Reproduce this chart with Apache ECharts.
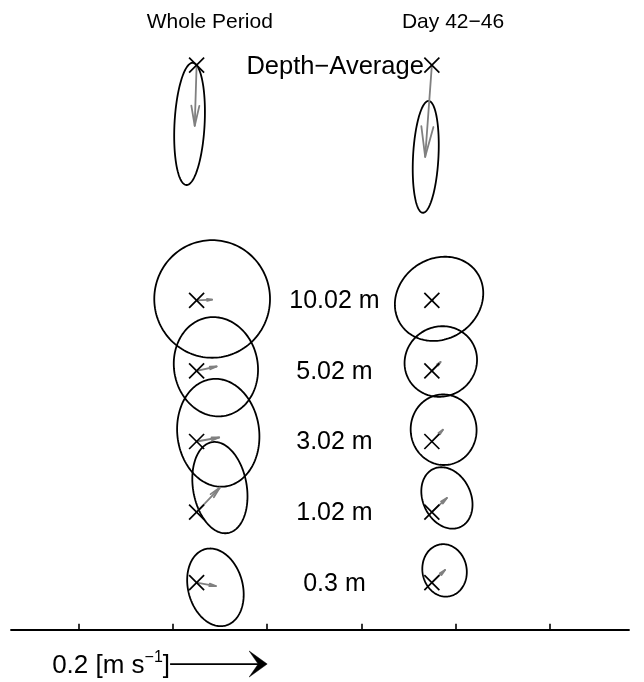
<!DOCTYPE html>
<html>
<head>
<meta charset="utf-8">
<script src="https://cdn.jsdelivr.net/npm/echarts@6/dist/echarts.min.js"></script>
<style>
  html, body { margin: 0; padding: 0; background: #fff; }
  #chart { width: 644px; height: 682px; }
</style>
</head>
<body>
<div id="chart"></div>
<script>
// Averaging windows (columns) and measurement levels (rows)
const periods = ['Whole Period', 'Day 42−46'];
const levels = ['Depth−Average', '10.02 m', '5.02 m', '3.02 m', '1.02 m', '0.3 m'];

// Whole period: mean current (m/s) and current-variance ellipse
const wholeMeanU   = [-0.004, 0.033, 0.0425, 0.048, 0.0495, 0.041];
const wholeMeanV   = [-0.129, 0.0015, 0.0094, 0.0085, 0.052, -0.0072];
const wholeCentreU = [-0.015, 0.033, 0.041, 0.046, 0.0495, 0.040];
const wholeCentreV = [-0.125, 0.003, 0.0089, 0.0185, 0.052, -0.010];
const wholeMajor   = [0.130, 0.125, 0.106, 0.115, 0.098, 0.084];
const wholeMinor   = [0.032, 0.123, 0.089, 0.087, 0.057, 0.058];
const wholeAngle   = [87, 90, 100, 97, 100, 105];

// Day 42-46: mean current (m/s) and current-variance ellipse
const dayMeanU   = [-0.0142, 0.002, 0.0185, 0.0234, 0.032, 0.028];
const dayMeanV   = [-0.195, 0.001, 0.019, 0.0249, 0.030, 0.027];
const dayCentreU = [-0.013, 0.0153, 0.019, 0.025, 0.032, 0.027];
const dayCentreV = [-0.195, 0.0032, 0.020, 0.025, 0.030, 0.026];
const dayMajor   = [0.119, 0.098, 0.078, 0.075, 0.068, 0.056];
const dayMinor   = [0.027, 0.085, 0.074, 0.070, 0.051, 0.047];
const dayAngle   = [87, 35, 30, 95, 115, 100];

// Reference arrow speed (m/s) and tick positions along the base axis
const scaleSpeed = 0.2;
const tickValues = [0, 0.2, 0.4, 0.6, 0.8, 1.0];

// ---- layout (plot units: 1 unit = 1 m/s, equal aspect) ----
const X_MIN = -0.1445, X_MAX = 1.169;
const Y_MIN = -0.1112, Y_MAX = 1.3384;
const colX = [0.25, 0.75];
const rowY = levels.map((_, i) => (i === 0 ? 1.2 : 0.7 - 0.15 * (i - 1)));
const labelX = 0.543;
const titlePos = [[0.278, 1.2916], [0.795, 1.2916]];
const scaleOrigin = [0.2, -0.073];
const FONT = '"Liberation Sans", Arial, Helvetica, sans-serif';
const LINE_W = 1.8;

const sets = [
  { mu: wholeMeanU, mv: wholeMeanV, cu: wholeCentreU, cv: wholeCentreV,
    major: wholeMajor, minor: wholeMinor, angle: wholeAngle },
  { mu: dayMeanU, mv: dayMeanV, cu: dayCentreU, cv: dayCentreV,
    major: dayMajor, minor: dayMinor, angle: dayAngle }
];

// one record per (period, level): [originX, originY, period, level]
const cells = [];
periods.forEach((_, p) => levels.forEach((_, i) => cells.push([colX[p], rowY[i], p, i])));

function ellipseItem(params, api) {
  const ox = api.value(0), oy = api.value(1), p = api.value(2), i = api.value(3);
  const d = sets[p];
  const cx = ox + d.cu[i], cy = oy + d.cv[i];
  const a = d.major[i], b = d.minor[i], th = d.angle[i] * Math.PI / 180;
  const pts = [];
  const N = 160;
  for (let k = 0; k < N; k++) {
    const t = 2 * Math.PI * k / N;
    const ex = a * Math.cos(t), ey = b * Math.sin(t);
    pts.push(api.coord([cx + ex * Math.cos(th) - ey * Math.sin(th),
                        cy + ex * Math.sin(th) + ey * Math.cos(th)]));
  }
  return { type: 'polygon', shape: { points: pts },
           style: { fill: 'none', stroke: '#000', lineWidth: LINE_W } };
}

function arrowItem(params, api) {
  const ox = api.value(0), oy = api.value(1), p = api.value(2), i = api.value(3);
  const d = sets[p];
  const u = d.mu[i], v = d.mv[i];
  const tx = ox + u, ty = oy + v;
  const alpha = 0.33, beta = 0.2;
  const h1 = [tx - alpha * (u + beta * v), ty - alpha * (v - beta * u)];
  const h2 = [tx - alpha * (u - beta * v), ty - alpha * (v + beta * u)];
  const s = api.coord([ox, oy]), t = api.coord([tx, ty]);
  const a1 = api.coord(h1), a2 = api.coord(h2);
  const style = { stroke: '#808080', lineWidth: 1.8, fill: 'none', lineJoin: 'round', lineCap: 'round' };
  return { type: 'group', children: [
    { type: 'polyline', shape: { points: [s, t] }, style },
    { type: 'polyline', shape: { points: [a1, t, a2] }, style }
  ] };
}

function crossItem(params, api) {
  const c = api.coord([api.value(0), api.value(1)]);
  const r = 7.5;
  return { type: 'group', children: [
    { type: 'line', shape: { x1: c[0] - r, y1: c[1] - r, x2: c[0] + r, y2: c[1] + r },
      style: { stroke: '#000', lineWidth: 1.7 } },
    { type: 'line', shape: { x1: c[0] - r, y1: c[1] + r, x2: c[0] + r, y2: c[1] - r },
      style: { stroke: '#000', lineWidth: 1.7 } }
  ] };
}

function textsItem(params, api) {
  const children = [];
  // column titles
  periods.forEach((name, p) => {
    const c = api.coord(titlePos[p]);
    children.push({ type: 'text', x: c[0], y: c[1],
      style: { text: name, font: '21px ' + FONT, fill: '#000', align: 'center', verticalAlign: 'middle' } });
  });
  // level labels
  levels.forEach((name, i) => {
    if (i === 0) {
      const c = api.coord([colX[1], rowY[0]]);
      children.push({ type: 'text', x: c[0] - 8, y: c[1] + 2,
        style: { text: name, font: '25.5px ' + FONT, fill: '#000', align: 'right', verticalAlign: 'middle' } });
    } else {
      const c = api.coord([labelX, rowY[i]]);
      children.push({ type: 'text', x: c[0], y: c[1] + 1,
        style: { text: name, font: '25px ' + FONT, fill: '#000', align: 'center', verticalAlign: 'middle' } });
    }
  });
  return { type: 'group', children };
}

function scaleItem(params, api) {
  const s = api.coord(scaleOrigin);
  const e = api.coord([scaleOrigin[0] + scaleSpeed, scaleOrigin[1]]);
  const L = 18, W = 13, notch = 9;
  return { type: 'group', children: [
    { type: 'line', shape: { x1: s[0] - 3, y1: s[1], x2: e[0] - notch, y2: e[1] },
      style: { stroke: '#000', lineWidth: 1.8 } },
    { type: 'polygon', shape: { points: [[e[0], e[1]], [e[0] - L, e[1] - W], [e[0] - notch, e[1]], [e[0] - L, e[1] + W]] },
      style: { fill: '#000', stroke: '#000', lineWidth: 0.5 } },
    { type: 'text', x: s[0] - 3, y: s[1] + 2,
      style: { text: scaleSpeed + ' [m s{sup|−1}]', font: '26px ' + FONT, fill: '#000',
        align: 'right', verticalAlign: 'middle',
        rich: { sup: { fontSize: 16, fontFamily: FONT, verticalAlign: 'top', lineHeight: 32 } } } }
  ] };
}

const chart = echarts.init(document.getElementById('chart'), null, { renderer: 'canvas' });
chart.setOption({
  animation: false,
  backgroundColor: '#fff',
  grid: { left: 11, right: 15, top: 0, bottom: 0, containLabel: false },
  xAxis: {
    type: 'value', min: X_MIN, max: X_MAX,
    axisLine: { onZero: true, lineStyle: { color: '#000', width: 1.8 } },
    axisTick: { show: true, inside: true, length: 6, customValues: tickValues,
                lineStyle: { color: '#000', width: 1.6 } },
    axisLabel: { show: false },
    splitLine: { show: false }
  },
  yAxis: {
    type: 'value', min: Y_MIN, max: Y_MAX,
    axisLine: { show: false }, axisTick: { show: false },
    axisLabel: { show: false }, splitLine: { show: false }
  },
  series: [
    { type: 'custom', data: cells, encode: { x: 0, y: 1 }, renderItem: ellipseItem, clip: false, z: 2 },
    { type: 'custom', data: cells, encode: { x: 0, y: 1 }, renderItem: arrowItem, clip: false, z: 3 },
    { type: 'custom', data: cells, encode: { x: 0, y: 1 }, renderItem: crossItem, clip: false, z: 4 },
    { type: 'custom', data: [[0, 0]], encode: { x: 0, y: 1 }, renderItem: textsItem, clip: false, z: 5 },
    { type: 'custom', data: [scaleOrigin], encode: { x: 0, y: 1 }, renderItem: scaleItem, clip: false, z: 5 }
  ]
});
</script>
</body>
</html>
